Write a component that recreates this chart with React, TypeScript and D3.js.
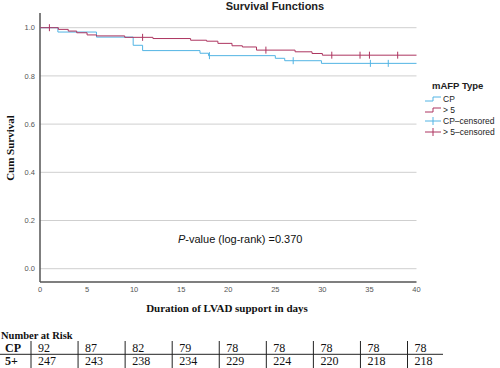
import * as d3 from 'd3';

// Kaplan-Meier steps (day, cumulative survival)
const cpTime = [0, 1.9, 6.0, 9.9, 10.9, 17.0, 17.9, 25.0, 26.0, 29.9, 40];
const cpSurv = [1.0, 0.982, 0.961, 0.927, 0.905, 0.894, 0.884, 0.873, 0.863, 0.852, 0.852];
const cpCensored = [18.0, 26.9, 35.1, 37.0];

const gtTime = [0, 1.95, 3.0, 3.9, 5.0, 6.0, 9.0, 12.0, 16.0, 17.7, 18.9, 20.4, 21.5, 23.0, 27.1, 28.9, 30.0, 40];
const gtSurv = [1.0, 0.993, 0.986, 0.979, 0.970, 0.966, 0.960, 0.955, 0.948, 0.944, 0.935, 0.925, 0.920, 0.907, 0.900, 0.893, 0.886, 0.886];
const gtCensored = [1.0, 10.9, 24.0, 31.0, 34.0, 35.0, 38.0];

const xTicks = [0, 5, 10, 15, 20, 25, 30, 35, 40];
const yTicks = [0, 0.2, 0.4, 0.6, 0.8, 1.0];

const riskDays = [0, 5, 10, 15, 20, 25, 30, 35, 40];
const riskCP = [92, 87, 82, 79, 78, 78, 78, 78, 78];
const riskGT = [247, 243, 238, 234, 229, 224, 220, 218, 218];

const legendItems = ['CP', '> 5', 'CP\u2013censored', '> 5\u2013censored'];

const BLUE = '#52b4e4';
const RED = '#ad3560';
const SANS = '"Liberation Sans", Arial, sans-serif';
const SERIF = '"Liberation Serif", "Times New Roman", serif';

function App() {
  const x = d3.scaleLinear().domain([0, 40]).range([40, 416.5]);
  const y = d3.scaleLinear().domain([0, 1]).range([268.7, 27.7]);

  const line = d3.line<[number, number]>()
    .x(d => x(d[0]))
    .y(d => y(d[1]))
    .curve(d3.curveStepAfter);

  const survAt = (times: number[], surv: number[], t: number) => {
    const i = d3.bisectRight(times, t) - 1;
    return surv[Math.max(0, i)];
  };

  const series = [
    { times: cpTime, surv: cpSurv, cens: cpCensored, color: BLUE },
    { times: gtTime, surv: gtSurv, cens: gtCensored, color: RED },
  ];

  const legendColors = [BLUE, RED, BLUE, RED];

  return (
    <div style={{ position: 'absolute', left: 0, top: 0 }}>
      <svg width={500} height={368} style={{ display: 'block', background: '#fff' }}>
        {/* title */}
        <text x={275} y={10} textAnchor="middle" fontFamily={SANS} fontWeight="bold" fontSize={11} fill="#222">
          Survival Functions
        </text>

        {/* grid */}
        {yTicks.map(t => (
          <line key={t} x1={x(0)} x2={x(40)} y1={y(t)} y2={y(t)} stroke="#cfcfcf" strokeWidth={1} />
        ))}

        {/* axes */}
        <line x1={x(0)} x2={x(0)} y1={13} y2={282} stroke="#555" strokeWidth={1.5} />
        <line x1={x(0)} x2={x(40)} y1={282} y2={282} stroke="#555" strokeWidth={1.5} />

        {yTicks.map(t => (
          <text key={t} x={35} y={y(t) + 2.7} textAnchor="end" fontFamily={SANS} fontSize={7.5} fill="#555">
            {t.toFixed(1)}
          </text>
        ))}
        {xTicks.map(t => (
          <text key={t} x={x(t)} y={292} textAnchor="middle" fontFamily={SANS} fontSize={7.5} fill="#555">
            {t}
          </text>
        ))}

        <text transform="translate(14,148) rotate(-90)" textAnchor="middle" fontFamily={SERIF} fontWeight="bold" fontSize={11} fill="#111">
          Cum Survival
        </text>
        <text x={227} y={312} textAnchor="middle" fontFamily={SERIF} fontWeight="bold" fontSize={11} fill="#111">
          Duration of LVAD support in days
        </text>

        {/* curves */}
        {series.map((s, i) => (
          <g key={i}>
            <path
              d={line(s.times.map((t, j) => [t, s.surv[j]] as [number, number])) || ''}
              fill="none"
              stroke={s.color}
              strokeWidth={1}
            />
            {s.cens.map(t => {
              const cx = x(t);
              const cy = y(survAt(s.times, s.surv, t));
              return <line key={t} x1={cx} x2={cx} y1={cy - 3.5} y2={cy + 3.5} stroke={s.color} strokeWidth={1} />;
            })}
          </g>
        ))}

        {/* p-value */}
        <text x={178} y={243} fontFamily={SANS} fontSize={11} fill="#111">
          <tspan fontStyle="italic">P</tspan>-value (log-rank) =0.370
        </text>

        {/* legend */}
        <text x={432} y={88.5} fontFamily={SANS} fontWeight="bold" fontSize={9.5} fill="#222">
          mAFP Type
        </text>
        {legendItems.map((label, i) => {
          const cy = 99 + i * 11;
          const c = legendColors[i];
          return (
            <g key={label}>
              {i < 2 ? (
                <path d={`M425,${cy + 2}H433V${cy - 2}H441`} fill="none" stroke={c} strokeWidth={1} />
              ) : (
                <g>
                  <line x1={425} x2={441} y1={cy} y2={cy} stroke={c} strokeWidth={1} />
                  <line x1={433} x2={433} y1={cy - 4} y2={cy + 4} stroke={c} strokeWidth={1} />
                </g>
              )}
              <text x={443} y={cy + 3} fontFamily={SANS} fontSize={8.5} fill="#222">
                {label}
              </text>
            </g>
          );
        })}

        {/* number at risk table */}
        <text x={1} y={339} fontFamily={SERIF} fontWeight="bold" fontSize={10.5} fill="#111">
          Number at Risk
        </text>
        <line x1={0} x2={443} y1={354.3} y2={354.3} stroke="#222" strokeWidth={1} />
        <text x={5} y={352} fontFamily={SERIF} fontWeight="bold" fontSize={12} fill="#111">CP</text>
        <text x={5} y={365} fontFamily={SERIF} fontWeight="bold" fontSize={12} fill="#111">5+</text>
        {riskDays.map((d, i) => {
          const sx = x(d) - 9;
          return (
            <g key={d}>
              <line x1={sx} x2={sx} y1={341} y2={368} stroke="#222" strokeWidth={1} />
              <text x={sx + 7} y={351.5} fontFamily={SERIF} fontSize={12} fill="#111">{riskCP[i]}</text>
              <text x={sx + 7} y={364.5} fontFamily={SERIF} fontSize={12} fill="#111">{riskGT[i]}</text>
            </g>
          );
        })}
      </svg>
    </div>
  );
}

export default App;
